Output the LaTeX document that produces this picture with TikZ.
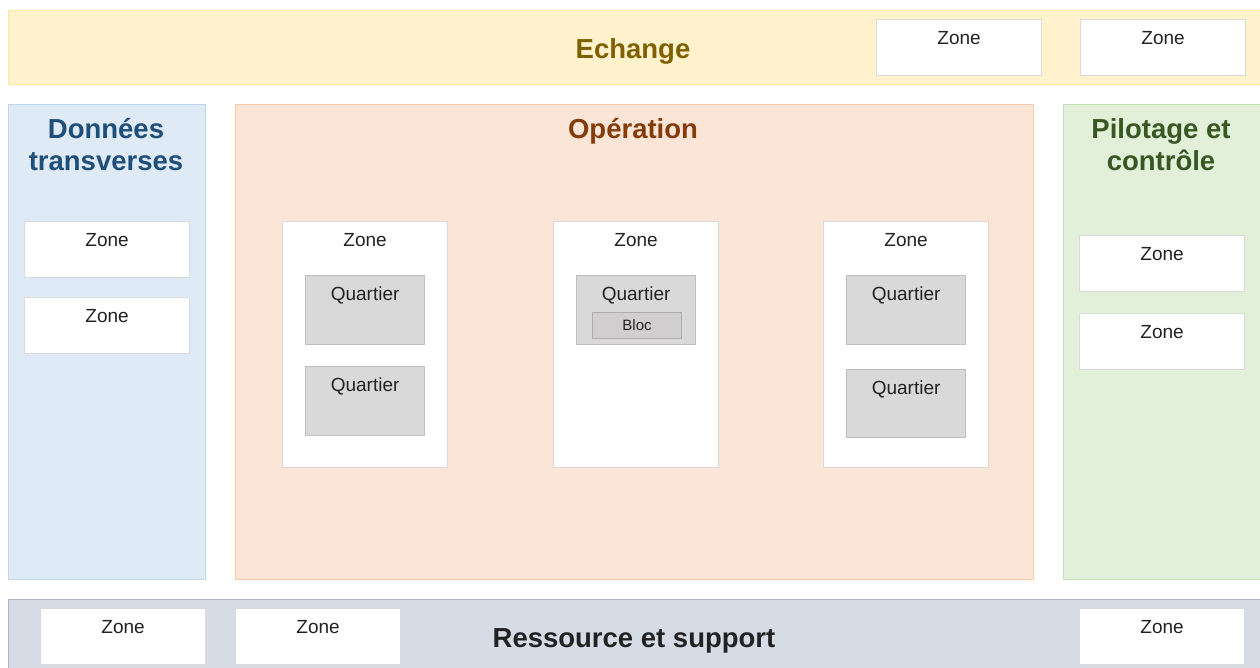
\documentclass[tikz,border=0pt]{standalone}
\usepackage{fontspec}
\setmainfont{Liberation Sans}
\usetikzlibrary{positioning}
\definecolor{ink}{HTML}{222222}
\definecolor{zoneline}{HTML}{DADADA}
\definecolor{echfill}{HTML}{FFF2CC}
\definecolor{echline}{HTML}{FFE699}
\definecolor{echtext}{HTML}{7F6000}
\definecolor{donfill}{HTML}{DEEBF7}
\definecolor{donline}{HTML}{BDD7EE}
\definecolor{dontext}{HTML}{1F4E79}
\definecolor{opfill}{HTML}{FBE5D6}
\definecolor{opline}{HTML}{F8CBAD}
\definecolor{optext}{HTML}{843C0C}
\definecolor{pilfill}{HTML}{E2F0D9}
\definecolor{pilline}{HTML}{C5E0B4}
\definecolor{piltext}{HTML}{385723}
\definecolor{resfill}{HTML}{D6DCE5}
\definecolor{resline}{HTML}{ADB9CA}
\definecolor{qfill}{HTML}{D9D9D9}
\definecolor{qline}{HTML}{BFBFBF}
\definecolor{bfill}{HTML}{D0CECE}
\definecolor{bline}{HTML}{AFABAB}
\newcommand{\Txt}{\fontsize{19}{22}\selectfont}
\newcommand{\Head}{\fontsize{27.5}{32}\selectfont\bfseries}
\tikzset{
  layer/.style={anchor=north west, line width=1.2, inner sep=0},
  title/.style={anchor=base, align=center, font=\Head},
  zone/.style={draw=zoneline, fill=white, line width=1.2, anchor=north west, inner sep=0,
    minimum width=165, text=ink, font=\Txt, text height=25, text depth=31},
  quartier/.style={draw=qline, fill=qfill, line width=1.2, anchor=north west, inner sep=0,
    minimum width=119, text=ink, font=\Txt, text height=25, text depth=44},
  bloc/.style={draw=bline, fill=bfill, line width=1, anchor=north west, inner sep=0,
    minimum width=89, minimum height=26, text=ink, font=\fontsize{15}{17}\selectfont}
}
\begin{document}
\begin{tikzpicture}[x=1pt,y=-1pt]
  \clip (0,0) rectangle (1260,668);
  \fill[white] (0,0) rectangle (1260,668);
  % layers
  \node[layer, draw=echline, fill=echfill, minimum width=1262, minimum height=74] (echange) at (8,10) {};
  \node[layer, draw=donline, fill=donfill, minimum width=197, minimum height=475] (donnees) at (8,104) {};
  \node[layer, draw=opline, fill=opfill, minimum width=798, minimum height=475] (operation) at (235,104) {};
  \node[layer, draw=pilline, fill=pilfill, minimum width=210, minimum height=475] (pilotage) at (1063,104) {};
  \node[layer, draw=resline, fill=resfill, minimum width=1262, minimum height=80] (ressource) at (8,599) {};
  % titles (base = last line)
  \node[title, text=echtext] (techange) at (633,58.5) {Echange};
  \node[title, text=dontext] (tdonnees) at (106,170.5) {Données\\transverses};
  \node[title, text=optext] (toperation) at (633,138.5) {Opération};
  \node[title, text=piltext] (tpilotage) at (1161,170.5) {Pilotage et\\contrôle};
  \node[title, text=ink] (tressource) at (634,647.5) {Ressource et support};
  % zones
  \node[zone] (ze1) at (876,19) {Zone};
  \node[zone] (ze2) at (1080,19) {Zone};
  \node[zone] (zd1) at (24,221) {Zone};
  \node[zone] (zd2) at (24,297) {Zone};
  \node[zone] (zp1) at (1079,235) {Zone};
  \node[zone] (zp2) at (1079,313) {Zone};
  \node[zone] (zr1) at (40,608) {Zone};
  \node[zone] (zr2) at (235,608) {Zone};
  \node[zone] (zr3) at (1079,608) {Zone};
  \foreach \x/\nm in {282/zo1, 553/zo2, 823/zo3}{
    \node[zone, text depth=221] (\nm) at (\x,221) {Zone};}
  % quartiers
  \node[quartier] (q11) at (305,275) {Quartier};
  \node[quartier] (q12) at (305,366) {Quartier};
  \node[quartier] (q21) at (576,275) {Quartier};
  \node[quartier] (q31) at (846,275) {Quartier};
  \node[quartier, text depth=43] (q32) at (846,369) {Quartier};
  \node[bloc] (b21) at (592,312) {Bloc};
\end{tikzpicture}
\end{document}
